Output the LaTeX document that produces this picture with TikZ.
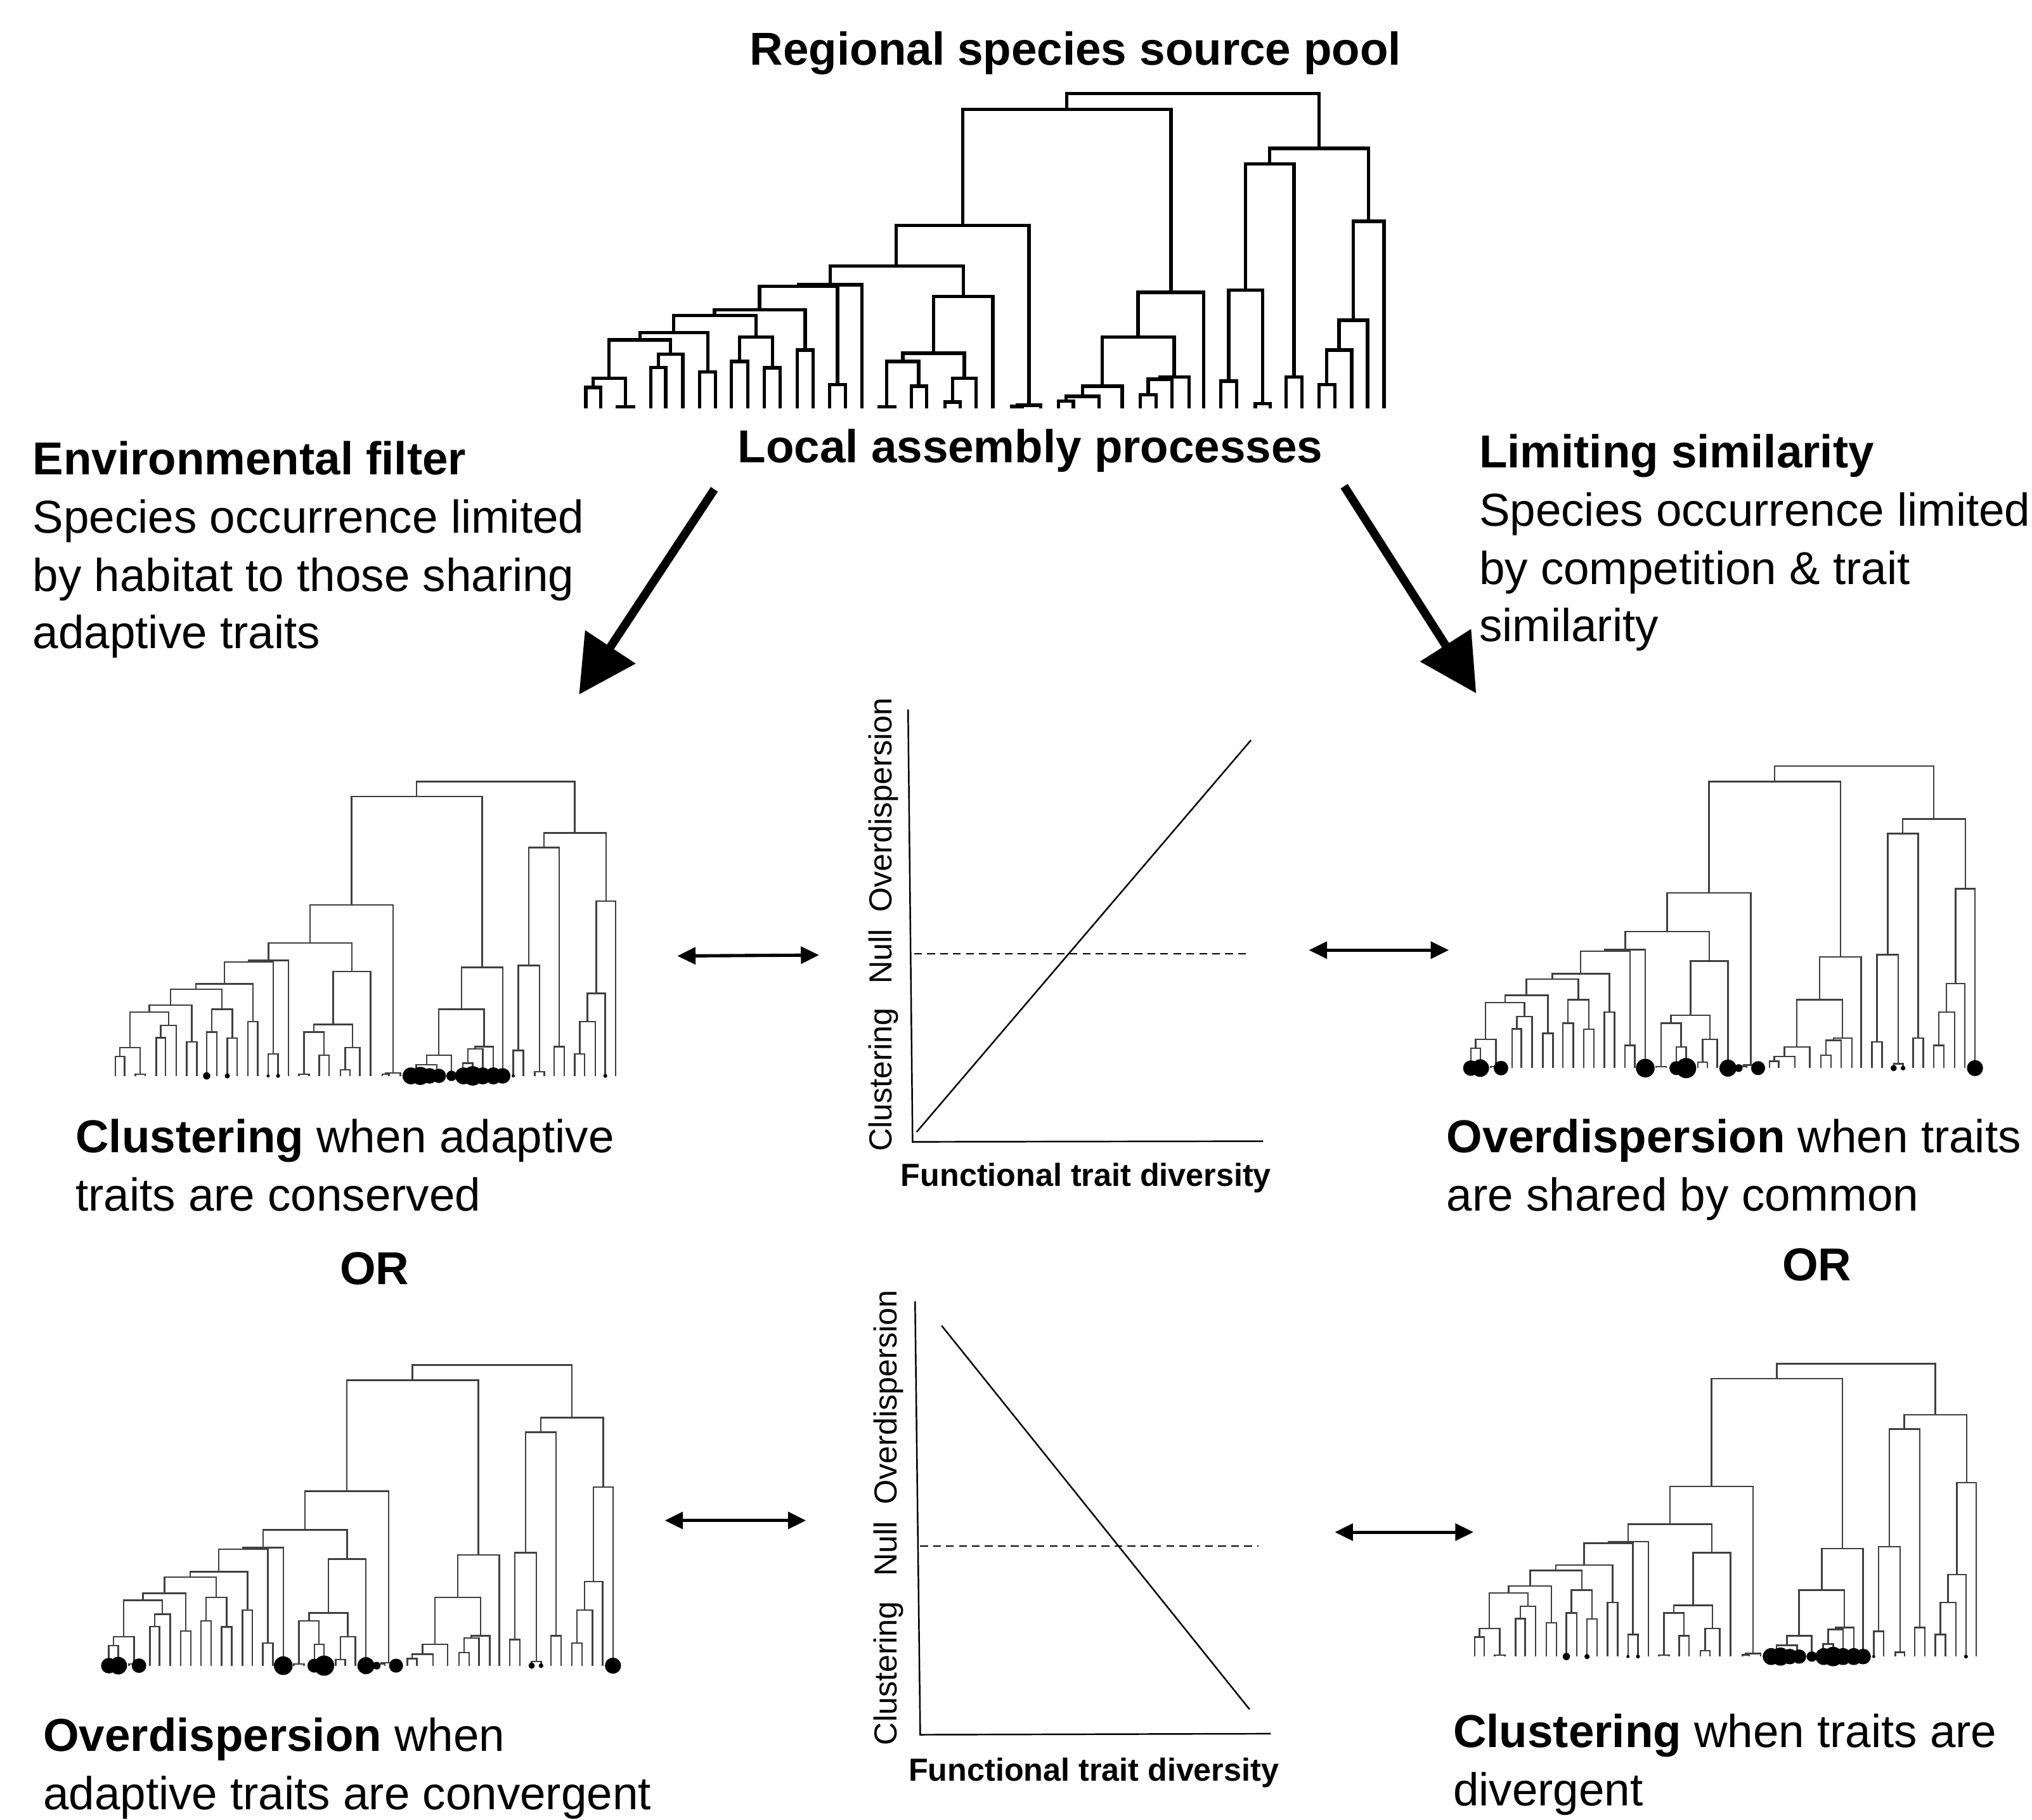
\documentclass[tikz,border=0pt]{standalone}
\usepackage{fontspec}
\setmainfont{Liberation Sans}
\usetikzlibrary{arrows.meta}

% one U-shaped junction of the dendrogram: child a, child b, height of the join
\newcommand{\junc}[5]{\draw (#1,#2) |- (#3,#5) -- (#3,#4);}
% filled dot on a tip
\newcount\tipcount
\newcommand{\tip}[2]{\global\advance\tipcount by 1
  \node[tipdot, minimum size=#2pt] (tip\the\tipcount) at (#1,1490) {};}

% the species tree, tips at y=1490, root at y=100
\newcommand{\phylotree}{%
  \junc{22}{1490}{50}{1490}{1398}
  \junc{82}{1490}{112}{1490}{1483}
  \junc{36}{1398}{97}{1483}{1357}
  \junc{145}{1490}{173}{1490}{1310}
  \junc{159}{1310}{205}{1490}{1252}
  \junc{66}{1357}{182}{1252}{1188}
  \junc{237}{1490}{267}{1490}{1330}
  \junc{124}{1188}{252}{1330}{1155}
  \junc{297}{1490}{328}{1490}{1283}
  \junc{359}{1490}{389}{1490}{1311}
  \junc{312}{1283}{374}{1311}{1175}
  \junc{188}{1155}{343}{1175}{1081}
  \junc{421}{1490}{451}{1490}{1233}
  \junc{265}{1081}{436}{1233}{1056}
  \junc{482}{1490}{512}{1490}{1386}
  \junc{350}{1056}{497}{1386}{952}
  \junc{423}{952}{543}{1490}{945}
  \junc{575}{1490}{605}{1490}{1483}
  \junc{636}{1490}{665}{1490}{1392}
  \junc{590}{1483}{650}{1392}{1283}
  \junc{700}{1490}{728}{1490}{1462}
  \junc{714}{1462}{758}{1490}{1357}
  \junc{620}{1283}{736}{1357}{1247}
  \junc{678}{1247}{790}{1490}{997}
  \junc{483}{945}{734}{997}{862}
  \junc{826}{1490}{846}{1490}{1482}
  \junc{836}{1482}{880}{1490}{1476}
  \junc{608}{862}{858}{1476}{683}
  \junc{914}{1490}{942}{1490}{1458}
  \junc{928}{1458}{990}{1490}{1437}
  \junc{959}{1437}{1034}{1490}{1392}
  \junc{1068}{1490}{1098}{1490}{1430}
  \junc{1083}{1430}{1128}{1490}{1362}
  \junc{1105}{1362}{1160}{1490}{1352}
  \junc{996}{1392}{1132}{1352}{1175}
  \junc{1064}{1175}{1188}{1490}{978}
  \junc{733}{683}{1126}{978}{171}
  \junc{1220}{1490}{1250}{1490}{1370}
  \junc{1285}{1490}{1313}{1490}{1470}
  \junc{1235}{1370}{1299}{1470}{968}
  \junc{1343}{1490}{1373}{1490}{1352}
  \junc{1267}{968}{1358}{1352}{411}
  \junc{1405}{1490}{1435}{1490}{1386}
  \junc{1420}{1386}{1467}{1490}{1233}
  \junc{1443}{1233}{1497}{1490}{1101}
  \junc{1470}{1101}{1528}{1490}{665}
  \junc{1312}{411}{1499}{665}{343}
  \junc{929}{171}{1405}{343}{100}
}
% tips of one clade occupied
\newcommand{\clusterdots}{%
  \tip{297}{2.8} \tip{359}{2} \tip{482}{1.2} \tip{512}{1.5}
  \tip{912}{6.5} \tip{940}{7} \tip{968}{6} \tip{996}{5.5} \tip{1034}{4}
  \tip{1070}{6.5} \tip{1098}{7.5} \tip{1128}{6.5} \tip{1160}{6.5} \tip{1188}{6}
  \tip{1220}{1.2} \tip{1497}{1.5}
}
% occupied tips spread over the tree
\newcommand{\spreaddots}{%
  \tip{22}{6} \tip{50}{6.8} \tip{112}{5.6} \tip{543}{7.2} \tip{636}{5.4}
  \tip{665}{7.8} \tip{790}{6.6} \tip{822}{3} \tip{880}{5.4}
  \tip{1285}{2.4} \tip{1313}{1.8} \tip{1528}{6.2}
}

\begin{document}
\begin{tikzpicture}[x=0.5pt, y=-0.5pt,
    txt/.style={font=\fontsize{17.8}{22}\selectfont, inner sep=0pt, anchor=base west},
    head/.style={txt, font=\fontsize{17.8}{22}\selectfont\bfseries},
    axlab/.style={font=\fontsize{12.3}{14}\selectfont, inner sep=0pt, anchor=base, rotate=90},
    axtitle/.style={font=\fontsize{12.3}{14}\selectfont\bfseries, inner sep=0pt, anchor=base},
    tipdot/.style={circle, fill=black, draw=none, inner sep=0pt},
    bigtree/.style={line width=1.3pt},
    smalltree/.style={line width=0.6pt, color=black!75},
    bigarrow/.style={line width=3.25pt, -{Triangle[length=22pt, width=22.5pt]}},
    dblarrow/.style={line width=1.25pt, {Triangle[length=7pt, width=6.5pt]}-{Triangle[length=7pt, width=6.5pt]}},
    axis/.style={line width=0.6pt},
    nullline/.style={line width=0.5pt, dash pattern=on 3pt off 2pt}
    ]
    \useasboundingbox (0,0) rectangle (1568,1404);

    % regional pool
    \node[head, anchor=base] (pool) at (830,50) {Regional species source pool};
    \begin{scope}[bigtree, shift={(443.0,54.52)}, xscale=0.40903, yscale=0.17482]
        \phylotree
    \end{scope}
    \node[head, anchor=base] (local) at (795,357) {Local assembly processes};

    % the two processes
    \node[head] (env1) at (25,366) {Environmental filter};
    \node[txt] (env2) at (25,411) {Species occurrence limited};
    \node[txt] (env3) at (25,456) {by habitat to those sharing};
    \node[txt] (env4) at (25,500) {adaptive traits};
    \node[head] (lim1) at (1141,361) {Limiting similarity};
    \node[txt] (lim2) at (1141,406) {Species occurrence limited};
    \node[txt] (lim3) at (1141,451) {by competition \& trait};
    \node[txt] (lim4) at (1141,495) {similarity};

    \coordinate (envfrom) at (551.2,377.5);
    \coordinate (envto) at (446.8,535.8);
    \coordinate (limfrom) at (1037.2,375.1);
    \coordinate (limto) at (1139.1,534.9);
    \draw[bigarrow] (envfrom) -- (envto);
    \draw[bigarrow] (limfrom) -- (limto);

    % community trees
    \begin{scope}[smalltree, shift={(83.36,586.67)}, xscale=0.25631, yscale=0.16331]
        \phylotree
        \clusterdots
    \end{scope}
    \begin{scope}[smalltree, shift={(1129.32,574.24)}, xscale=0.25830, yscale=0.16763]
        \phylotree
        \spreaddots
    \end{scope}
    \begin{scope}[smalltree, shift={(78.32,1036.31)}, xscale=0.25830, yscale=0.16691]
        \phylotree
        \spreaddots
    \end{scope}
    \begin{scope}[smalltree, shift={(1132.35,1035.74)}, xscale=0.25697, yscale=0.16259]
        \phylotree
        \clusterdots
    \end{scope}

    % captions
    \node[txt] (capa1) at (58,889) {\textbf{Clustering} when adaptive};
    \node[txt] (capa2) at (58,934) {traits are conserved};
    \node[head, anchor=base] (orl) at (289,991) {OR};
    \node[txt] (capb1) at (1116,889) {\textbf{Overdispersion} when traits};
    \node[txt] (capb2) at (1116,934) {are shared by common};
    \node[head, anchor=base] (orr) at (1402,988) {OR};
    \node[txt] (capc1) at (33,1351) {\textbf{Overdispersion} when};
    \node[txt] (capc2) at (33,1396) {adaptive traits are convergent};
    \node[txt] (capd1) at (1121,1348) {\textbf{Clustering} when traits are};
    \node[txt] (capd2) at (1121,1393) {divergent};

    % upper plot
    \coordinate (ytop1) at (700.7,547.2);
    \coordinate (orig1) at (704.2,880.9);
    \coordinate (xend1) at (974.7,880.4);
    \coordinate (fit1a) at (707.3,873.3);
    \coordinate (fit1b) at (965.3,571.0);
    \coordinate (null1a) at (705.4,735.8);
    \coordinate (null1b) at (965.3,735.8);
    \draw[axis] (ytop1) -- (orig1) -- (xend1);
    \draw[axis] (fit1a) -- (fit1b);
    \draw[nullline] (null1a) -- (null1b);
    \node[axlab] (clu1) at (688,833) {Clustering};
    \node[axlab] (nul1) at (688,738) {Null};
    \node[axlab] (ovd1) at (688,621) {Overdispersion};
    \node[axtitle] (ftd1) at (838,915) {Functional trait diversity};

    % lower plot
    \coordinate (ytop2) at (706.1,1003.9);
    \coordinate (orig2) at (710.1,1338.3);
    \coordinate (xend2) at (980.6,1337.5);
    \coordinate (fit2a) at (726.6,1022.7);
    \coordinate (fit2b) at (964.2,1318.7);
    \coordinate (null2a) at (710.0,1192.7);
    \coordinate (null2b) at (971.2,1192.7);
    \draw[axis] (ytop2) -- (orig2) -- (xend2);
    \draw[axis] (fit2a) -- (fit2b);
    \draw[nullline] (null2a) -- (null2b);
    \node[axlab] (clu2) at (692,1291) {Clustering};
    \node[axlab] (nul2) at (692,1195) {Null};
    \node[axlab] (ovd2) at (692,1078) {Overdispersion};
    \node[axtitle] (ftd2) at (844,1374) {Functional trait diversity};

    % links between trees and plots
    \coordinate (la) at (522.7,737.5);
    \coordinate (lb) at (632.0,736.8);
    \coordinate (ra) at (1010,733);
    \coordinate (rb) at (1118,733);
    \coordinate (bla) at (513,1173);
    \coordinate (blb) at (622,1173);
    \coordinate (bra) at (1030,1182);
    \coordinate (brb) at (1137,1182);
    \draw[dblarrow] (la) -- (lb);
    \draw[dblarrow] (ra) -- (rb);
    \draw[dblarrow] (bla) -- (blb);
    \draw[dblarrow] (bra) -- (brb);
\end{tikzpicture}
\end{document}
